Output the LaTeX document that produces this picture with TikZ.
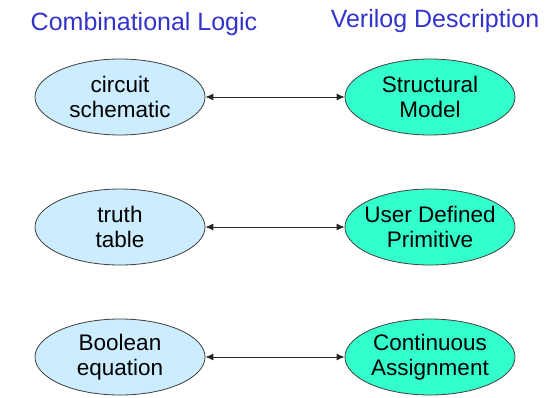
\documentclass[tikz,border=0pt]{standalone}
\usepackage{fontspec}
\setmainfont{Liberation Sans}
\usetikzlibrary{shapes.geometric,arrows.meta}
\definecolor{lblue}{HTML}{CCECFF}
\definecolor{aqua}{HTML}{33FFCC}
\definecolor{ttl}{HTML}{3333CC}
\begin{document}
\begin{tikzpicture}[x=1pt,y=-1pt,
  el/.style={ellipse, draw=black!75, line width=0.8pt, minimum width=170pt, minimum height=76pt, inner xsep=-30pt, inner ysep=-6pt, align=center, font=\fontsize{22.5}{25}\selectfont},
  lft/.style={el, fill=lblue},
  rgt/.style={el, fill=aqua},
  ttlstyle/.style={text=ttl, font=\fontsize{25}{28}\selectfont, anchor=base},
  conn/.style={{Latex[length=8pt,width=7pt]}-{Latex[length=8pt,width=7pt]}, line width=0.9pt, draw=black!85}]
\useasboundingbox (0,0) rectangle (549,397);
\node[ttlstyle] (t1) at (144,30) {Combinational Logic};
\node[ttlstyle] (t2) at (435,27) {Verilog Description};
\node[lft] (a1) at (120,97) {circuit\\schematic};
\node[rgt] (b1) at (430,97) {Structural\\Model};
\node[lft] (a2) at (120,227) {truth\\table};
\node[rgt] (b2) at (430,227) {User Defined\\Primitive};
\node[lft] (a3) at (120,357) {Boolean\\equation};
\node[rgt] (b3) at (430,357) {Continuous\\Assignment};
\draw[conn] (a1) -- (b1);
\draw[conn] (a2) -- (b2);
\draw[conn] (a3) -- (b3);
\end{tikzpicture}
\end{document}
